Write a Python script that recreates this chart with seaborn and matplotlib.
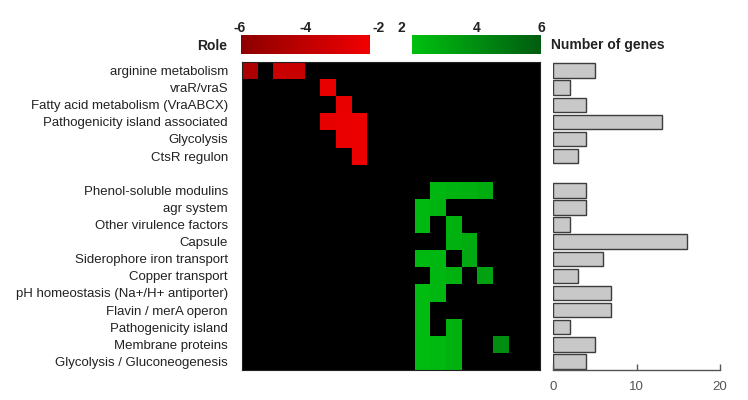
import numpy as np
import pandas as pd
import matplotlib
matplotlib.use("Agg")
import matplotlib.pyplot as plt
import matplotlib.transforms as mtransforms
from matplotlib.colors import LinearSegmentedColormap
import seaborn as sns

# ==============================
# DATA
# ==============================

down_roles = [
    "arginine metabolism",
    "vraR/vraS",
    "Fatty acid metabolism (VraABCX)",
    "Pathogenicity island associated",
    "Glycolysis",
    "CtsR regulon",
]

up_roles = [
    "Phenol-soluble modulins",
    "agr system",
    "Other virulence factors",
    "Capsule",
    "Siderophore iron transport",
    "Copper transport",
    "pH homeostasis (Na+/H+ antiporter)",
    "Flavin / merA operon",
    "Pathogenicity island",
    "Membrane proteins",
    "Glycolysis / Gluconeogenesis",
]

down_genes = [5, 2, 4, 13, 4, 3]
up_genes = [4, 4, 2, 16, 6, 3, 7, 7, 2, 5, 4]

# fold change per gene column (0 = not changed)
down_values = [
    [-4.7, 0, -3.6, -3.6, 0, 0, 0, 0, 0, 0, 0, 0, 0, 0, 0, 0, 0, 0, 0],
    [0, 0, 0, 0, 0, -2.4, 0, 0, 0, 0, 0, 0, 0, 0, 0, 0, 0, 0, 0],
    [0, 0, 0, 0, 0, 0, -2.4, 0, 0, 0, 0, 0, 0, 0, 0, 0, 0, 0, 0],
    [0, 0, 0, 0, 0, -2.5, -2.3, -2.2, 0, 0, 0, 0, 0, 0, 0, 0, 0, 0, 0],
    [0, 0, 0, 0, 0, 0, -2.3, -2.2, 0, 0, 0, 0, 0, 0, 0, 0, 0, 0, 0],
    [0, 0, 0, 0, 0, 0, 0, -2.2, 0, 0, 0, 0, 0, 0, 0, 0, 0, 0, 0],
]

up_values = [
    [0, 0, 0, 0, 0, 0, 0, 0, 0, 0, 0, 0, 2.4, 2.5, 2.6, 2.8, 0, 0, 0],
    [0, 0, 0, 0, 0, 0, 0, 0, 0, 0, 0, 2.3, 2.5, 0, 0, 0, 0, 0, 0],
    [0, 0, 0, 0, 0, 0, 0, 0, 0, 0, 0, 2.3, 0, 2.6, 0, 0, 0, 0, 0],
    [0, 0, 0, 0, 0, 0, 0, 0, 0, 0, 0, 0, 0, 2.6, 2.8, 0, 0, 0, 0],
    [0, 0, 0, 0, 0, 0, 0, 0, 0, 0, 0, 2.3, 2.4, 0, 2.9, 0, 0, 0, 0],
    [0, 0, 0, 0, 0, 0, 0, 0, 0, 0, 0, 0, 2.4, 2.6, 0, 3.2, 0, 0, 0],
    [0, 0, 0, 0, 0, 0, 0, 0, 0, 0, 0, 2.2, 2.4, 0, 0, 0, 0, 0, 0],
    [0, 0, 0, 0, 0, 0, 0, 0, 0, 0, 0, 2.2, 0, 0, 0, 0, 0, 0, 0],
    [0, 0, 0, 0, 0, 0, 0, 0, 0, 0, 0, 2.2, 0, 2.6, 0, 0, 0, 0, 0],
    [0, 0, 0, 0, 0, 0, 0, 0, 0, 0, 0, 2.2, 2.3, 2.6, 0, 0, 4.0, 0, 0],
    [0, 0, 0, 0, 0, 0, 0, 0, 0, 0, 0, 2.2, 2.3, 2.6, 0, 0, 0, 0, 0],
]

red_ticks = [-6, -4, -2]
green_ticks = [2, 4, 6]

# ==============================
# PREPARATION
# ==============================

plt.rcParams["font.family"] = ["Liberation Sans", "DejaVu Sans"]

spacer = " "
roles = down_roles + [spacer] + up_roles
n_cols = len(down_values[0])

heat = pd.DataFrame(
    down_values + [[0] * n_cols] + up_values,
    index=roles,
)

genes = pd.DataFrame({
    "role": roles,
    "n": down_genes + [np.nan] + up_genes,
})

reds = LinearSegmentedColormap.from_list("reds", ["#8c0000", "#f20000"])
greens = LinearSegmentedColormap.from_list("greens", ["#00c010", "#005c10"])

text_col = "#222222"

# ==============================
# FIGURE
# ==============================

fig = plt.figure(figsize=(7.48, 4.0), dpi=100)
W, H = 748, 400


def box(x0, y0, x1, y1):
    return [x0 / W, 1 - y1 / H, (x1 - x0) / W, (y1 - y0) / H]


ax = fig.add_axes(box(242, 62, 540, 370))
ax_bar = fig.add_axes(box(553, 62, 720, 370))
cax_red = fig.add_axes(box(241, 35, 370, 54))
cax_green = fig.add_axes(box(412, 35, 541, 54))

ax.set_facecolor("black")

sns.heatmap(
    heat, mask=heat >= 0, cmap=reds, vmin=-6, vmax=-2,
    ax=ax, cbar_ax=cax_red, cbar_kws={"orientation": "horizontal"},
    xticklabels=False, yticklabels=True,
)
sns.heatmap(
    heat, mask=heat <= 0, cmap=greens, vmin=2, vmax=6,
    ax=ax, cbar_ax=cax_green, cbar_kws={"orientation": "horizontal"},
    xticklabels=False, yticklabels=True,
)

ax.set_xlabel("")
ax.set_ylabel("")
ax.tick_params(axis="y", length=0, pad=10, labelsize=9.5, labelcolor=text_col)
for lab in ax.get_yticklabels():
    lab.set_transform(lab.get_transform() + mtransforms.ScaledTranslation(0, -1.5 / 100, fig.dpi_scale_trans))
for s in ax.spines.values():
    s.set_visible(True)
    s.set_color("#222222")
    s.set_linewidth(0.8)

# colorbars
for cax, ticks, shifts in [
    (cax_red, red_ticks, [-1, 0, 9]),
    (cax_green, green_ticks, [-11, 0, 0]),
]:
    cax.xaxis.set_ticks_position("top")
    cax.set_xticks(ticks)
    cax.set_xticklabels([str(t) for t in ticks])
    cax.tick_params(axis="x", length=0, pad=3, labelsize=10, labelcolor=text_col)
    for lab, dx in zip(cax.get_xticklabels(), shifts):
        lab.set_fontweight("bold")
        lab.set_transform(lab.get_transform() + mtransforms.ScaledTranslation(dx / 100, -4 / 100, fig.dpi_scale_trans))
    for s in cax.spines.values():
        s.set_visible(False)

fig.text(227 / W, 1 - 46 / H, "Role", ha="right", va="center",
         fontsize=10, fontweight="bold", color=text_col)
fig.text(551 / W, 1 - 45 / H, "Number of genes", ha="left", va="center",
         fontsize=10, fontweight="bold", color=text_col)

# ==============================
# BAR CHART
# ==============================

sns.barplot(
    data=genes, x="n", y="role", order=roles, orient="h",
    color="#c8c8c8", edgecolor="#3c3c3c", linewidth=1.0,
    width=0.84, saturation=1, ax=ax_bar,
)
ax_bar.set_xlim(0, 20)
ax_bar.set_ylim(len(roles) - 0.5, -0.5)
ax_bar.set_xticks([0, 10, 20])
ax_bar.set_yticks([])
ax_bar.set_xlabel("")
ax_bar.set_ylabel("")
ax_bar.tick_params(axis="x", direction="in", length=4, width=1, colors="#555555",
                   labelsize=9.5, labelcolor="#555555", pad=8)
for side in ["left", "top", "right"]:
    ax_bar.spines[side].set_visible(False)
ax_bar.spines["bottom"].set_color("#555555")
ax_bar.spines["bottom"].set_linewidth(1.0)
ax_bar.set_facecolor("white")

fig.savefig("out.png", dpi=100, facecolor="white")
